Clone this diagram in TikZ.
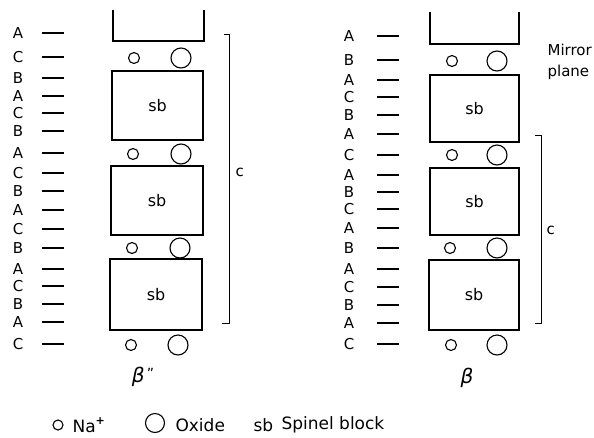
\documentclass[tikz,border=0pt]{standalone}
\usepackage{fontspec}
\setmainfont{DejaVu Sans}
\begin{document}
\begin{tikzpicture}[x=1pt,y=-1pt,
  line width=1.1pt,
  lay/.style={font=\fontsize{15}{15}\selectfont, inner sep=0pt},
  dsh/.style={line width=1.2pt},
  sbbox/.style={draw, rectangle, inner sep=0pt, font=\fontsize{16}{16}\selectfont},
  na/.style={draw, circle, minimum size=11pt, inner sep=0pt},
  ox/.style={draw, circle, minimum size=20pt, inner sep=0pt},
  lbl/.style={font=\fontsize{15}{15}\selectfont, inner sep=0pt, anchor=west},
  leg/.style={font=\fontsize{17}{17}\selectfont, inner sep=0pt, anchor=west},
  greek/.style={font=\fontsize{20}{20}\selectfont\itshape, inner sep=0pt}]
\useasboundingbox (0,0) rectangle (594,437);

% ---------- left column (beta'') ----------
\foreach \l/\yy [count=\i] in {A/33,C/57,B/78,A/96,C/113,B/131,A/153,C/173,B/191,A/210,C/229,B/248,A/269,C/286,B/304,A/322,C/344}{
  \node[lay] (L\i) at (18,\yy) {\l};
  \coordinate (La\i) at (42,\yy);
  \coordinate (Lb\i) at (64,\yy);
  \draw[dsh] (La\i) -- (Lb\i);
}
\coordinate (LT1) at (113,10);
\coordinate (LT2) at (113,41);
\coordinate (LT3) at (204,41);
\coordinate (LT4) at (204,10);
\draw (LT1) -- (LT2) -- (LT3) -- (LT4);
\node[sbbox, minimum width=91pt, minimum height=69pt] (LB2) at (157.5,105.5) {sb};
\node[sbbox, minimum width=92pt, minimum height=69pt] (LB3) at (157,200.5) {sb};
\node[sbbox, minimum width=92pt, minimum height=71pt] (LB4) at (156,294.5) {sb};
\foreach \sx/\bx/\yy [count=\i] in {134/181/58,133/181/154,132/180/248,131/178/345}{
  \node[na] (Lna\i) at (\sx,\yy) {};
  \node[ox] (Lox\i) at (\bx,\yy) {};
}
\node[greek] (betapp) at (143,377) {β\kern2pt\raisebox{0.35ex}{\fontsize{14}{14}\selectfont\upshape "}};
\coordinate (LC1) at (224,34);
\coordinate (LC2) at (229,34);
\coordinate (LC3) at (229,323);
\coordinate (LC4) at (222,323);
\draw[line width=0.9pt] (LC1) -- (LC2) -- (LC3) -- (LC4);
\node[lbl] (Lc) at (235,172) {c};

% ---------- right column (beta) ----------
\foreach \l/\yy [count=\i] in {A/36,B/60,A/80,C/97,B/115,A/134,C/155,A/175,B/192,C/209,A/228,B/248,A/269,C/287,B/305,A/323,C/344}{
  \node[lay] (R\i) at (349,\yy) {\l};
  \coordinate (Ra\i) at (377,\yy);
  \coordinate (Rb\i) at (399,\yy);
  \draw[dsh] (Ra\i) -- (Rb\i);
}
\coordinate (RT1) at (430,12);
\coordinate (RT2) at (430,44);
\coordinate (RT3) at (519,44);
\coordinate (RT4) at (519,12);
\draw (RT1) -- (RT2) -- (RT3) -- (RT4);
\node[sbbox, minimum width=89pt, minimum height=67pt] (RB2) at (474.5,108.5) {sb};
\node[sbbox, minimum width=89pt, minimum height=67pt] (RB3) at (474.5,201.5) {sb};
\node[sbbox, minimum width=90pt, minimum height=70pt] (RB4) at (474,295) {sb};
\foreach \sx/\bx/\yy [count=\i] in {452/497/61,452/497/155,450/497/248,451/497/345}{
  \node[na] (Rna\i) at (\sx,\yy) {};
  \node[ox] (Rox\i) at (\bx,\yy) {};
}
\node[greek] (beta) at (467,378) {β};
\coordinate (RC1) at (535,135);
\coordinate (RC2) at (541,135);
\coordinate (RC3) at (541,323);
\coordinate (RC4) at (535,323);
\draw[line width=0.9pt] (RC1) -- (RC2) -- (RC3) -- (RC4);
\node[lbl] (Rc) at (546,230) {c};
\node[lbl] (mirror) at (547,50) {Mirror};
\node[lbl] (plane) at (547,72) {plane};

% ---------- legend ----------
\node[na, minimum size=10pt] (legna) at (58,425) {};
\node[leg] (legnat) at (72,425) {Na\raisebox{0.8ex}{\fontsize{11}{11}\selectfont\bfseries +}};
\node[ox, minimum size=19pt] (legox) at (155,423) {};
\node[leg] (legoxt) at (175,425) {Oxide};
\node[leg] (legsb) at (253,425) {sb};
\node[leg] (legsbt) at (281,425) {Spinel block};
\end{tikzpicture}
\end{document}
